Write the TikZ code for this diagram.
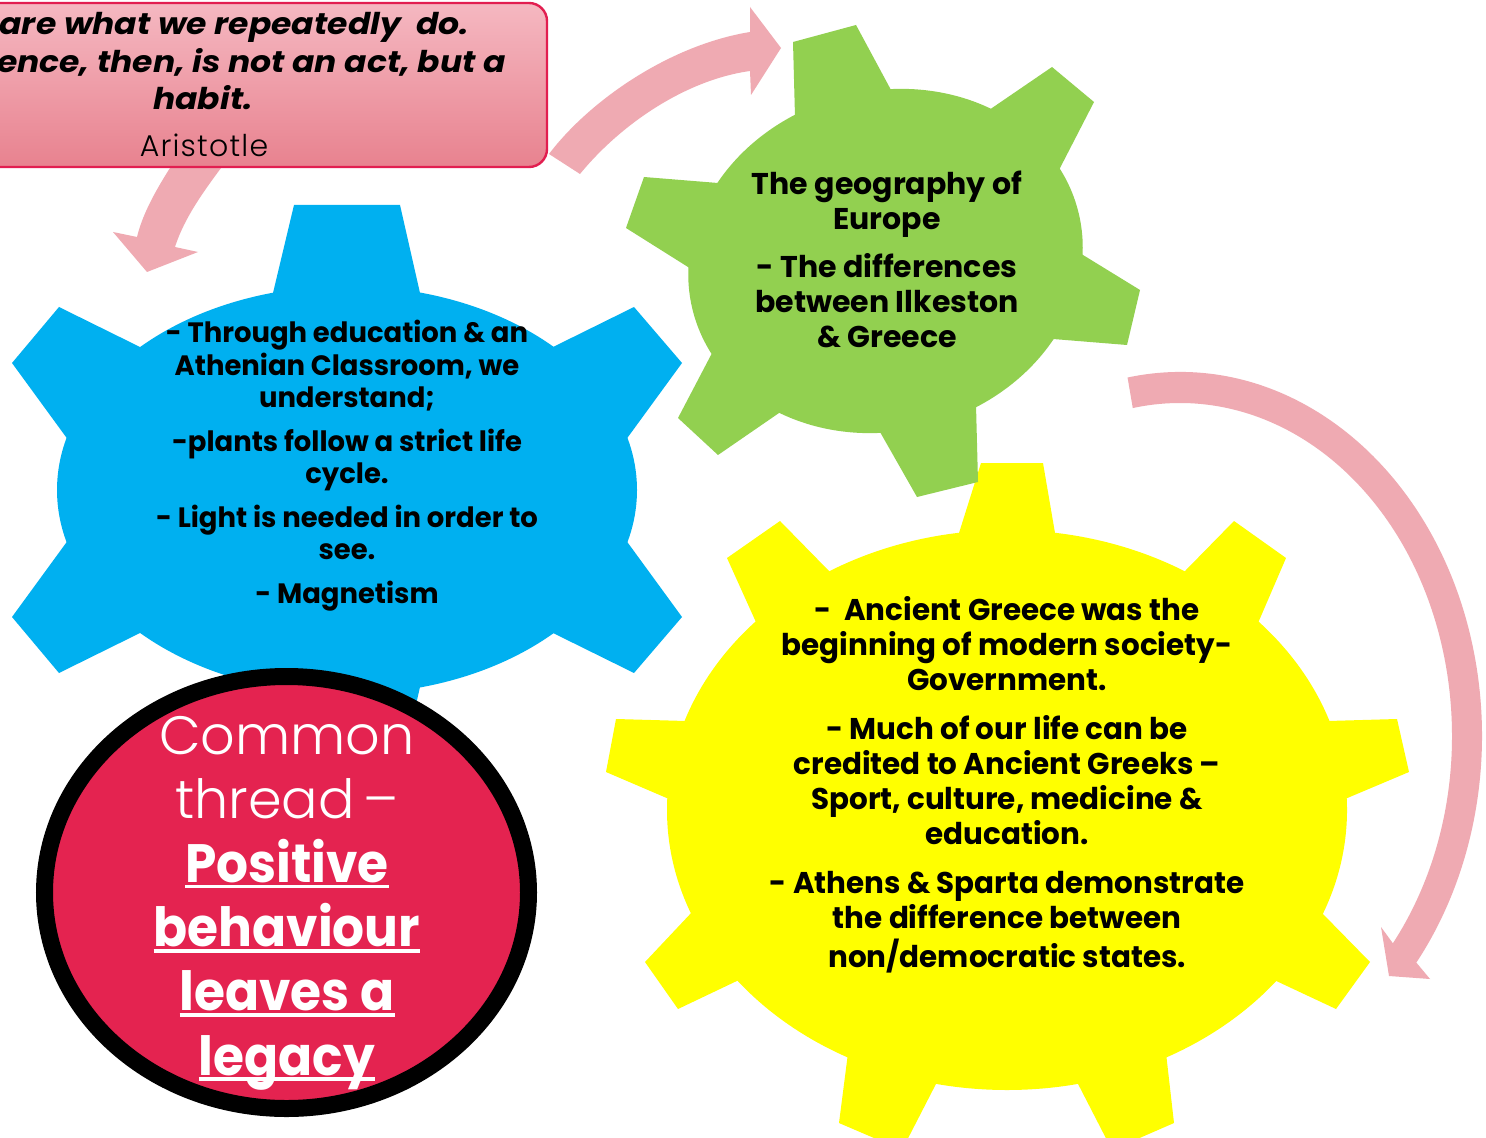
\documentclass[tikz,border=0pt]{standalone}
\usepackage{fontspec}
\setmainfont{Poppins}
\newfontfamily\blufont{Poppins}[FakeStretch=0.98]
\newfontfamily\grnfont{Poppins}[FakeStretch=1.0]
\newfontfamily\ylwfont{Poppins}[FakeStretch=0.98]
\newfontfamily\qtfont{Poppins}[FakeStretch=1.1]
\IfFontExistsTF{Poppins Light}
  {\newfontfamily\aufont{Poppins Light}[LetterSpace=4]\newfontfamily\ltfont{Poppins Light}}
  {\newfontfamily\aufont{Poppins}[LetterSpace=4]\newfontfamily\ltfont{Poppins}}
\newfontfamily\cbfont{Poppins}[FakeStretch=0.93]
\usetikzlibrary{calc}
\definecolor{bluegear}{HTML}{00B0F0}
\definecolor{greengear}{HTML}{92D050}
\definecolor{yellowgear}{HTML}{FFFF00}
\definecolor{arrowpink}{RGB}{239,170,178}
\definecolor{circred}{HTML}{E42350}
\definecolor{boxtop}{RGB}{245,184,193}
\definecolor{boxbot}{RGB}{232,130,143}
\definecolor{boxline}{RGB}{226,30,80}
\newcommand{\gtooth}[4]{($#1!-0.5!#2$) -- #2 -- #3 -- ($#4!-0.5!#3$) -- cycle}
\newcommand{\myul}[1]{\setbox0=\hbox{#1}\rlap{\rule[-3pt]{\wd0}{1.8pt}}\box0}
\begin{document}
\begin{tikzpicture}[x=0.5pt,y=-0.5pt,
  pinkarrow/.style={fill=arrowpink},
  gtext/.style={inner sep=0pt, anchor=base, text=black}]
\useasboundingbox (0,0) rectangle (1486,1138);
\fill[white] (0,0) rectangle (1486,1138);

% ---- arrows ----
\fill[pinkarrow] (185,145) .. controls (163,178) and (144,208) .. (137,237)
  -- (113,232) -- (147,272) -- (198,252) -- (175,247)
  .. controls (185.5,214) and (209,184) .. (236,148) -- cycle;
\fill[pinkarrow] (549,154) .. controls (590,100) and (670,45) .. (750,32)
  -- (750,7) -- (781,48) -- (751,95) -- (750,71)
  .. controls (685,80) and (620,125) .. (580,174) -- cycle;
\begin{scope}[shift={(1180,736)}]
\fill[pinkarrow] (-100:302 and 364) arc[start angle=-100, end angle=38.5, x radius=302, y radius=364]
  -- (250,243) -- (209,240) -- (201,191) -- (38.5:272 and 333)
  arc[start angle=38.5, end angle=-100, x radius=272, y radius=333] -- cycle;
\end{scope}

% ---- quote box ----
\path[draw=boxline, line width=1.2pt, top color=boxtop, bottom color=boxbot, rounded corners=9pt]
  (-141,3) rectangle (547,167);

% ---- blue gear ----
\fill[bluegear] (347,490) ellipse [x radius=290, y radius=204];
\fill[bluegear] \gtooth{(273,293)}{(294,205)}{(400,205)}{(420,293)};
\fill[bluegear] \gtooth{(553,347)}{(634,307)}{(682,363)}{(628,437)};
\fill[bluegear] \gtooth{(628,543)}{(682,617)}{(634,673)}{(553,633)};
\fill[bluegear] \gtooth{(420,687)}{(400,775)}{(294,775)}{(273,687)};
\fill[bluegear] \gtooth{(140,633)}{(59,673)}{(12,617)}{(66,543)};
\fill[bluegear] \gtooth{(66,437)}{(12,363)}{(59,307)}{(140,347)};

% ---- yellow gear ----
\fill[yellowgear] (1007,810) ellipse [x radius=340, y radius=280];
\fill[yellowgear] \gtooth{(959,533)}{(981,463)}{(1043,463)}{(1055,533)};
\fill[yellowgear] \gtooth{(1185,571)}{(1234,521)}{(1286,558)}{(1258,623)};
\fill[yellowgear] \gtooth{(1328,721)}{(1397,719)}{(1409,772)}{(1345,799)};
\fill[yellowgear] \gtooth{(1320,911)}{(1370,962)}{(1336,1009)}{(1272,979)};
\fill[yellowgear] \gtooth{(1166,1053)}{(1174,1123)}{(1112,1150)}{(1076,1080)};
\fill[yellowgear] \gtooth{(938,1080)}{(902,1150)}{(839,1123)}{(848,1053)};
\fill[yellowgear] \gtooth{(741,979)}{(678,1009)}{(645,962)}{(693,911)};
\fill[yellowgear] \gtooth{(669,799)}{(606,772)}{(616,719)}{(686,721)};
\fill[yellowgear] \gtooth{(755,620)}{(727,558)}{(780,521)}{(829,571)};

% ---- green gear ----
\fill[greengear, shift={(885.5,261)}, rotate=15] (0,0) ellipse [x radius=199, y radius=170];
\fill[greengear] \gtooth{(795,117)}{(793,42)}{(856,25)}{(891,90)};
\fill[greengear] \gtooth{(992,108)}{(1052,67)}{(1094,102)}{(1060,168)};
\fill[greengear] \gtooth{(1083,255)}{(1140,290)}{(1127,345)}{(1053,339)};
\fill[greengear] \gtooth{(976,405)}{(978,482)}{(917,497)}{(880,432)};
\fill[greengear] \gtooth{(779,413)}{(718,455)}{(678,418)}{(711,355)};
\fill[greengear] \gtooth{(688,267)}{(626,228)}{(644,177)}{(718,183)};

% ---- circle ----
\draw[fill=circred, line width=8.5pt] (286.5,892.5) ellipse [x radius=242, y radius=216];

% ---- texts ----
\node[gtext, font={\qtfont\bfseries\itshape\fontsize{15}{18.75}\selectfont}] (quote) at (203,35)
  {\begin{tabular}[t]{@{}c@{}}We are what we repeatedly\ \ do.\\ Excellence, then, is not an act, but a\\ habit.\end{tabular}};
\node[gtext, font={\aufont\fontsize{15}{16}\selectfont}] (author) at (204,157) {Aristotle};

\node[gtext, font={\blufont\bfseries\fontsize{14}{16}\selectfont}] (bluetext) at (347,343)
  {\begin{tabular}[t]{@{}c@{}}- Through education \& an\\ Athenian Classroom, we\\ understand;\\[6pt]
   -plants follow a strict life\\ cycle.\\[6pt] - Light is needed in order to\\ see.\\[6pt] - Magnetism\end{tabular}};

\node[gtext, font={\grnfont\bfseries\fontsize{15}{17.5}\selectfont}] (greentext) at (887,195)
  {\begin{tabular}[t]{@{}c@{}}The geography of\\ Europe\\[6.5pt] - The differences\\ between Ilkeston\\ \& Greece\end{tabular}};

\node[gtext, font={\ylwfont\bfseries\fontsize{15}{17.5}\selectfont}] (yellowtext) at (1007,620.5)
  {\begin{tabular}[t]{@{}c@{}}-\ \ Ancient Greece was the\\ beginning of modern society-\\ Government.\\[7pt]
   - Much of our life can be\\ credited to Ancient Greeks –\\ Sport, culture, medicine \&\\ education.\\[7pt]
   - Athens \& Sparta demonstrate\\ the difference between\\ non/democratic states.\end{tabular}};

\node[gtext, text=white, font={\fontsize{27}{32.1}\selectfont}] (thread) at (287,754)
  {\begin{tabular}[t]{@{}c@{}}\ltfont Common\\ \ltfont thread\,–\\ \cbfont\bfseries\myul{Positive}\\ \cbfont\bfseries\myul{behaviour}\\
   \cbfont\bfseries\myul{leaves a}\\ \cbfont\bfseries\myul{legacy}\end{tabular}};
\end{tikzpicture}
\end{document}
